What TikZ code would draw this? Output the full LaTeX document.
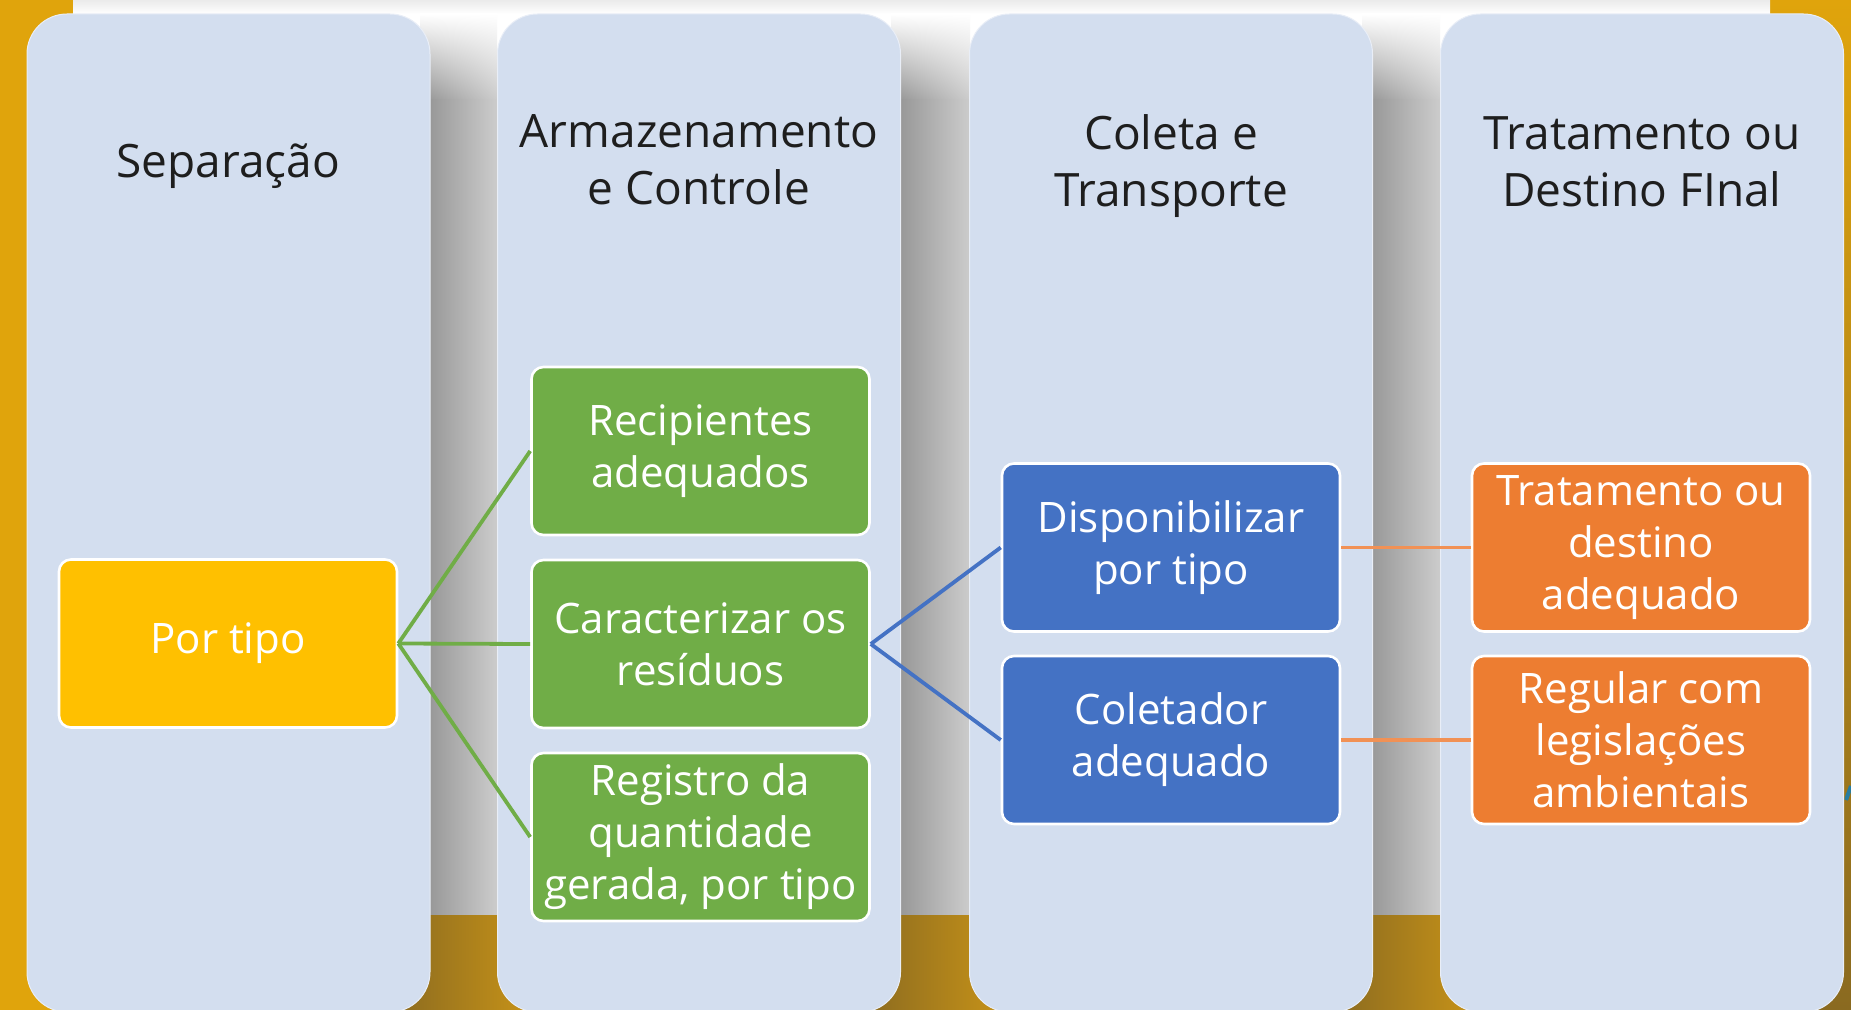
\documentclass[tikz,border=0pt]{standalone}
\usepackage{fontspec}
\setmainfont{Open Sans}
\usetikzlibrary{shadings}
\definecolor{colfill}{RGB}{211,222,239}
\definecolor{gold}{RGB}{224,164,12}
\definecolor{golddark}{RGB}{138,106,32}
\definecolor{goldmid}{RGB}{201,148,24}
\definecolor{shadowdark}{RGB}{145,145,145}
\definecolor{shadowlight}{RGB}{204,204,204}
\definecolor{ygold}{RGB}{255,192,0}
\definecolor{ggreen}{RGB}{112,173,71}
\definecolor{bblue}{RGB}{68,114,196}
\definecolor{oorange}{RGB}{237,125,49}
\definecolor{lineorange}{RGB}{241,145,85}
\definecolor{headtext}{RGB}{30,30,30}
\definecolor{tealmark}{RGB}{40,125,160}
\begin{document}
\begin{tikzpicture}[x=0.5pt,y=-0.5pt,
  column/.style={fill=colfill, draw=white!50!colfill, line width=0.5pt, rounded corners=20pt,
    minimum width=201.5pt, minimum height=499pt, inner sep=0pt},
  header/.style={text=headtext, font=\fontsize{23}{28.5}\selectfont, align=center},
  itembox/.style={draw=white, line width=1.3pt, rounded corners=6pt, minimum width=169pt,
    minimum height=84pt, inner sep=0pt, text=white, font=\fontsize{21}{26}\selectfont,
    align=center},
  yellowbox/.style={itembox, fill=ygold},
  greenbox/.style={itembox, fill=ggreen},
  bluebox/.style={itembox, fill=bblue},
  orangebox/.style={itembox, fill=oorange},
  gline/.style={draw=ggreen, line width=1.9pt},
  bline/.style={draw=bblue, line width=1.9pt},
  oline/.style={draw=lineorange, line width=1.9pt}
]
\useasboundingbox (0,0) rectangle (1851,1010);
% background
\fill[gold] (0,0) rectangle (1851,1010);
\shade[top color=gold, bottom color=golddark] (1770,0) rectangle (1851,1010);
\fill[white] (73,0) rectangle (1770,915);
\shade[top color=black!8, bottom color=white] (73,0) rectangle (1770,14);
% shadows in the gaps
\foreach \a/\b in {430/497, 901/970, 1372/1440}{
  \shade[upper left=white, upper right=white, lower left=shadowdark, lower right=shadowlight]
    (\a-10,14) rectangle (\b,100);
  \shade[left color=shadowdark, right color=shadowlight] (\a-10,100) rectangle (\b,915);
  \shade[left color=golddark, right color=goldmid] (\a-40,915) rectangle (\b+40,1010);
}
\draw[tealmark, line width=2pt] (1846,800) -- (1851,786);
% columns
\node[column] (col1) at (228.5,513) {};
\node[column] (col2) at (699,513) {};
\node[column] (col3) at (1171,513) {};
\node[column] (col4) at (1642,513) {};
% headers
\node[header] (h1) at (228.5,166) {Separação};
\node[header] (h2) at (699,160) {Armazenamento\\e Controle};
\node[header] (h3) at (1171,166) {Coleta e\\Transporte};
\node[header] (h4) at (1642,162) {Tratamento ou\\Destino FInal};
% boxes
\node[yellowbox] (portipo) at (228,643.5) {Por tipo};
\node[greenbox] (recip) at (700.5,451) {Recipientes\\adequados};
\node[greenbox] (caract) at (700.5,644) {Caracterizar os\\resíduos};
\node[greenbox] (registro) at (700.5,837) {Registro da\\quantidade\\gerada, por tipo};
\node[bluebox] (dispon) at (1171,547.5) {Disponibilizar\\por tipo};
\node[bluebox] (coletor) at (1171,740) {Coletador\\adequado};
\node[orangebox] (tratam) at (1641,547.5) {Tratamento ou\\destino\\adequado};
\node[orangebox] (regular) at (1641,740) {Regular com\\legislações\\ambientais};
% connectors
\draw[gline] (portipo.east) -- (recip.west);
\draw[gline] (portipo.east) -- (caract.west);
\draw[gline] (portipo.east) -- (registro.west);
\draw[bline] (caract.east) -- (dispon.west);
\draw[bline] (caract.east) -- (coletor.west);
\draw[oline] (dispon.east) -- (tratam.west);
\draw[oline] (coletor.east) -- (regular.west);
\end{tikzpicture}
\end{document}
